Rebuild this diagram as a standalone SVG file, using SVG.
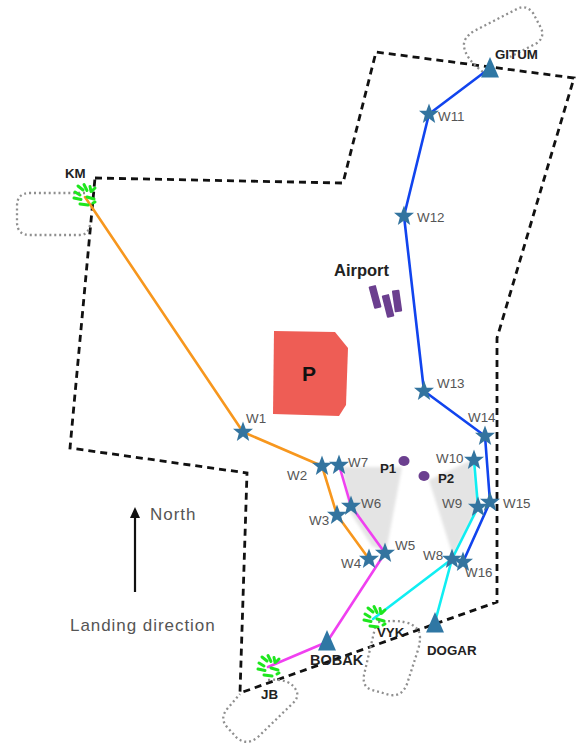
<svg xmlns="http://www.w3.org/2000/svg" xmlns:xlink="http://www.w3.org/1999/xlink" width="577" height="744" viewBox="0 0 577 744">
<style>
text{font-family:"Liberation Sans",Arial,sans-serif}
.w{font-size:13.4px;fill:#555}
.b{font-size:13.3px;font-weight:bold;fill:#222}
.leg{font-size:17px;letter-spacing:.95px;fill:#555}
.route{fill:none;stroke-width:2.6;stroke-linejoin:round;stroke-linecap:round}
.dot{fill:none;stroke:#8f8f8f;stroke-width:2.3;stroke-dasharray:2 2.9}
.star{fill:#33749f}
.tri{fill:#2f77a4}
.sq{fill:none;stroke:#1ee61e;stroke-width:3;stroke-linecap:round}
</style>
<defs>
<filter id="bl" x="-10%" y="-10%" width="120%" height="120%"><feGaussianBlur stdDeviation="1.6"/></filter>
<polygon id="s" class="star" points="0,-10.5 2.7,-3.3 10,-3.3 4.2,1.4 6.2,9 0,4.6 -6.2,9 -4.2,1.4 -10,-3.3 -2.7,-3.3"/>
<polygon id="t" class="tri" points="0,-14 -9,6.5 9,6.5"/>
<g id="g" class="sq">
<path d="M-6,-10l5,4M0,-11.500l3,6M6,-9.500l1,5M-9,-4l5,3M-10,2l7,1.500M-4,8l8,1M3,1l7,2M8,-5l3,-3M9,7l2,-1"/>
</g>
</defs>
<rect width="577" height="744" fill="#fff"/>
<g id="areas">
<polygon points="342,467 402,467 386,552 372,546 350,512" fill="#e4e4e4" filter="url(#bl)"/>
<polygon points="429,480 472,460 479,505 453,556" fill="#e4e4e4" filter="url(#bl)"/>
</g>
<g id="boundary">
<path d="M95,178L343,183L376,52L574,78L497,338L497,602L240,693L247,473L70,448L95,178Z" fill="none" stroke="#111" stroke-width="2.8" stroke-dasharray="7 5"/>
</g>
<g id="restricted">
<path class="dot" d="M85,193H30Q17,193 17,206V222Q17,235 30,235H80Q88,235 90,225"/>
<path class="dot" d="M483,72Q465,58 464,46Q463,38 474,31L517,9Q526,4 533,13L541,28Q545,37 537,43L510,57"/>
<path class="dot" d="M268,680Q290,678 296,690Q300,697 292,704L258,737Q247,746 237,738L227,727Q219,718 228,708L240,694"/>
<path class="dot" d="M378,622Q410,618 418,630Q422,636 418,650L407,684Q402,697 390,695L372,690Q362,687 364,675L375,628"/>
</g>
<g id="connectors">
<polyline class="route" stroke="#f7971e" points="85,197 243,432 322,466 337,515 369,559"/>
<polyline class="route" stroke="#f040f0" points="339,465 351,506 385,553 327,642 268,667"/>
<polyline class="route" stroke="#10eef2" points="373,619 452,559 478,507 474,460"/>
<polyline class="route" stroke="#10eef2" points="452,559 435,622"/>
<polyline class="route" stroke="#1144ee" points="490,68 429,114 404,216 424,391 485,436 490,502 463,562"/>
</g>
<g id="P"><path d="M274,331L335,332L348,348L346,405L339,416L273,414Z" fill="#ee5d55"/><text x="309" y="381" font-size="21" font-weight="bold" text-anchor="middle" fill="#111">P</text></g>
<g id="Airport"><text x="334" y="276" font-size="16.5" font-weight="bold" fill="#222">Airport</text>
<g fill="#6b3f8f"><rect x="-3.700" y="-11.500" width="7.500" height="23" rx="1" transform="translate(375,297) rotate(-15)"/><rect x="-3.700" y="-11.500" width="7.500" height="23" rx="1" transform="translate(388,306) rotate(-14)"/><rect x="-3.700" y="-11" width="7.500" height="22" rx="1" transform="translate(397,301) rotate(-8)"/></g></g>
<g id="P1"><ellipse cx="404" cy="461" rx="5.500" ry="5" fill="#6b3f8f"/><text class="b" x="380" y="473">P1</text></g>
<g id="P2"><ellipse cx="424" cy="476" rx="5.500" ry="5" fill="#6b3f8f"/><text class="b" x="438" y="483">P2</text></g>
<g id="W1"><use xlink:href="#s" x="243" y="432"/><text class="w" x="246" y="423">W1</text></g>
<g id="W2"><use xlink:href="#s" x="322" y="466"/><text class="w" x="287" y="480">W2</text></g>
<g id="W3"><use xlink:href="#s" x="337" y="515"/><text class="w" x="309" y="525">W3</text></g>
<g id="W4"><use xlink:href="#s" x="369" y="559"/><text class="w" x="341" y="568">W4</text></g>
<g id="W5"><use xlink:href="#s" x="385" y="553"/><text class="w" x="395" y="550">W5</text></g>
<g id="W6"><use xlink:href="#s" x="351" y="506"/><text class="w" x="361" y="508">W6</text></g>
<g id="W7"><use xlink:href="#s" x="339" y="465"/><text class="w" x="348" y="467">W7</text></g>
<g id="W8"><use xlink:href="#s" x="452" y="559"/><text class="w" x="423" y="560">W8</text></g>
<g id="W9"><use xlink:href="#s" x="478" y="507"/><text class="w" x="442" y="508">W9</text></g>
<g id="W10"><use xlink:href="#s" x="474" y="460"/><text class="w" x="436" y="463">W10</text></g>
<g id="W11"><use xlink:href="#s" x="429" y="114"/><text class="w" x="438" y="121">W11</text></g>
<g id="W12"><use xlink:href="#s" x="404" y="216"/><text class="w" x="417" y="222">W12</text></g>
<g id="W13"><use xlink:href="#s" x="424" y="391"/><text class="w" x="437" y="388">W13</text></g>
<g id="W14"><use xlink:href="#s" x="485" y="436"/><text class="w" x="468" y="422">W14</text></g>
<g id="W15"><use xlink:href="#s" x="490" y="502"/><text class="w" x="503" y="508">W15</text></g>
<g id="W16"><use xlink:href="#s" x="463" y="562"/><text class="w" x="465" y="577">W16</text></g>
<g id="GITUM"><use xlink:href="#t" x="490" y="71"/><text class="b" x="495" y="59">GITUM</text></g>
<g id="BOBAK"><use xlink:href="#t" x="327" y="644"/><text class="b" x="310" y="665" style="font-size:14.5px">BOBAK</text></g>
<g id="DOGAR"><use xlink:href="#t" x="435" y="626"/><text class="b" x="427" y="655">DOGAR</text></g>
<g id="KM"><use xlink:href="#g" x="84" y="196"/><text class="b" x="65" y="178">KM</text></g>
<g id="JB"><use xlink:href="#g" x="268" y="667"/><text class="b" x="261" y="699">JB</text></g>
<g id="VYK"><use xlink:href="#g" x="374" y="618"/><text class="b" x="377" y="637">VYK</text></g>
<g id="legend">
<path d="M135,592V515" stroke="#111" stroke-width="2.200" fill="none"/><polygon points="135,507 130,518 140,518" fill="#111"/>
<text class="leg" x="150" y="520">North</text>
<text class="leg" x="70" y="631">Landing direction</text>
</g>
</svg>
